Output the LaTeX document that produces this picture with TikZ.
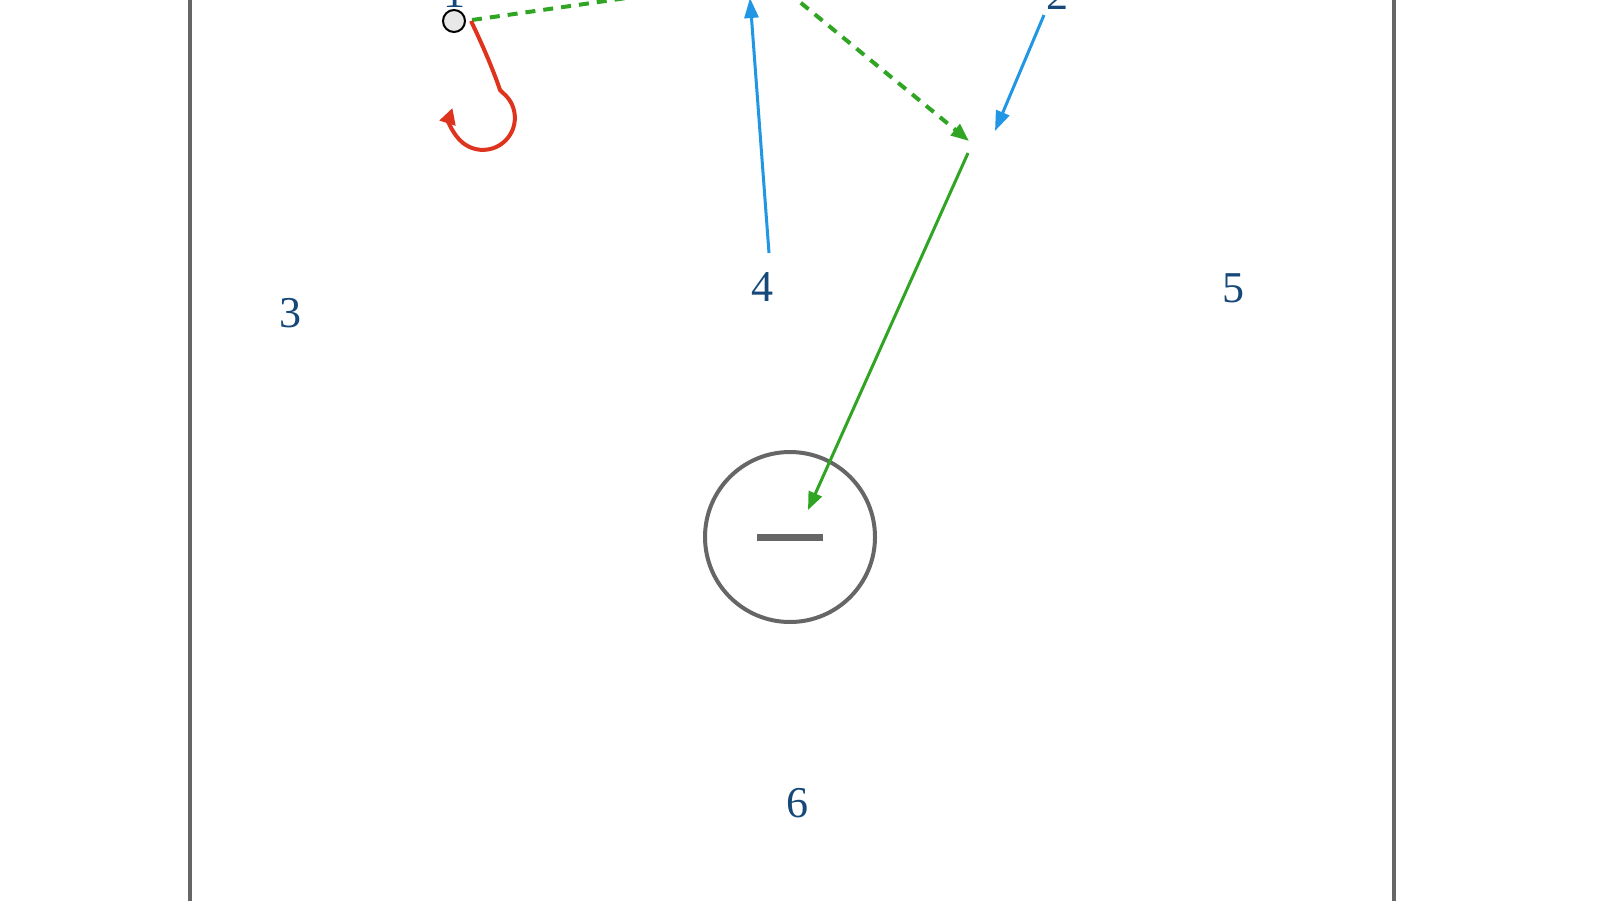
\documentclass[tikz,border=0pt]{standalone}
\usepackage{fontspec}
\setmainfont{Liberation Serif}
\usetikzlibrary{arrows.meta}
\definecolor{lblblue}{RGB}{22,72,122}
\definecolor{passgreen}{RGB}{48,165,36}
\definecolor{runblue}{RGB}{32,150,228}
\definecolor{hookred}{RGB}{222,52,30}
\definecolor{linegray}{RGB}{102,102,102}
\begin{document}
\begin{tikzpicture}[x=0.5pt,y=-0.5pt,
  lbl/.style={text=lblblue,font=\fontsize{22}{26}\selectfont,inner sep=0pt},
  border/.style={draw=linegray,line width=2pt},
  greenline/.style={draw=passgreen,line width=1.5pt,-{Triangle[length=9pt,width=7pt]}},
  greendash/.style={draw=passgreen,line width=2pt,dash pattern=on 5pt off 4pt,-{Triangle[length=9pt,width=7pt]}},
  blueline/.style={draw=runblue,line width=1.5pt,-{Triangle[length=10pt,width=7pt]}},
  redline/.style={draw=hookred,line width=2pt,-{Triangle[length=8pt,width=8pt]}},
  player/.style={circle,draw=black,line width=1pt,fill=gray!18,minimum size=11pt,inner sep=0pt},
  target/.style={circle,draw=linegray,line width=2pt,minimum size=85pt,inner sep=0pt}]
\useasboundingbox (0,0) rectangle (1600,900);
\clip (0,0) rectangle (1600,900);
\fill[white] (0,0) rectangle (1600,900);
% court borders
\draw[border] (190,-5) -- (190,905);
\draw[border] (1394,-5) -- (1394,905);
% labels
\node[lbl] (l1) at (454,-7) {1};
\node[lbl] (l2) at (1057,-5) {2};
\node[lbl] (l3) at (290,313) {3};
\node[lbl] (l4) at (762,287) {4};
\node[lbl] (l5) at (1233,288) {5};
\node[lbl] (l6) at (797,803) {6};
% target circle
\node[target] (goal) at (790,537) {};
\draw[draw=linegray,line width=3.5pt] ([xshift=-16.5pt]goal.center) -- ([xshift=16.5pt]goal.center);
% player 1
\node[player] (p1) at (454,21) {};
% coordinates
\coordinate (dtop) at (773,-20);
\coordinate (meet) at (969,141);
\coordinate (gstart) at (968,153);
\coordinate (gend) at (808,510);
\coordinate (b4s) at (769,253);
\coordinate (b4e) at (750,-2);
\coordinate (b2s) at (1044,15);
\coordinate (b2e) at (995,131);
\coordinate (pfar) at (753,-20);
\coordinate (hk) at (500,90);
\coordinate (hs) at (503,93);
% passes
\draw[greendash,-] ([xshift=3pt,yshift=0.5pt]p1.east) -- (pfar);
\draw[greendash] (dtop) -- (meet);
\draw[greenline] (gstart) -- (gend);
% runs
\draw[blueline] (b4s) -- (b4e);
\draw[blueline] (b2s) -- (b2e);
% hook
\draw[redline] ([xshift=2.5pt]p1.east) .. controls (485,50) and (495,75) .. (hk) -- (hs) arc (-51:198:32);
\end{tikzpicture}
\end{document}
